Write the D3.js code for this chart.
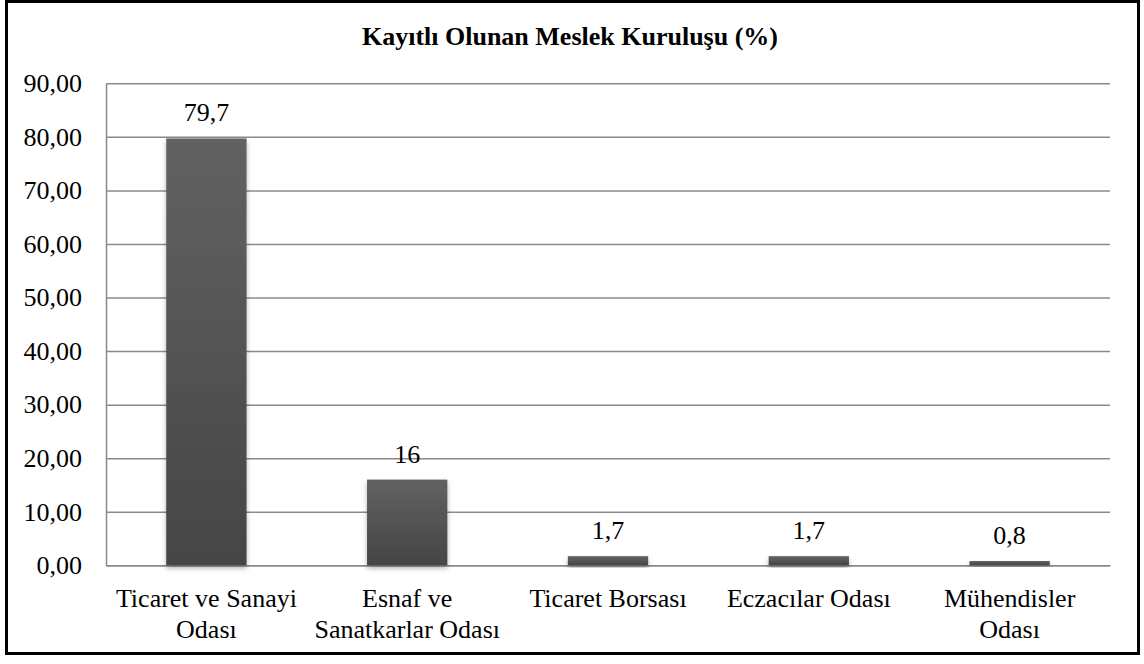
<!DOCTYPE html>
<html>
<head>
<meta charset="utf-8">
<script src="https://cdn.jsdelivr.net/npm/d3@7"></script>
<style>
  html, body { margin: 0; padding: 0; background: #fff; }
  svg { display: block; font-family: "Liberation Serif", "Times New Roman", serif; }
</style>
</head>
<body>
<div id="chart"></div>
<script>
// Chart data
const title = 'Kayıtlı Olunan Meslek Kuruluşu (%)';
const categories = [
    'Ticaret ve Sanayi\nOdası',
    'Esnaf ve\nSanatkarlar Odası',
    'Ticaret Borsası',
    'Eczacılar Odası',
    'Mühendisler\nOdası'
];
const values = [79.7, 16, 1.7, 1.7, 0.8];
const yTicks = [0, 10, 20, 30, 40, 50, 60, 70, 80, 90];

const width = 1144, height = 664;
const margin = {top: 83.3, right: 34, bottom: 98.7, left: 106};
const innerW = width - margin.left - margin.right;
const innerH = height - margin.top - margin.bottom;

const locale = d3.formatLocale({decimal: ',', thousands: '.', grouping: [3], currency: ['', '']});
const tickFormat = locale.format('.2f');
const valueFormat = v => String(v).replace('.', ',');

const svg = d3.select('#chart').append('svg')
    .attr('width', width)
    .attr('height', height);

// Gradient + soft shadow for the bars
const defs = svg.append('defs');
const grad = defs.append('linearGradient')
    .attr('id', 'barGrad')
    .attr('x1', 0).attr('y1', 0).attr('x2', 0).attr('y2', 1);
grad.append('stop').attr('offset', '0%').attr('stop-color', '#626262');
grad.append('stop').attr('offset', '100%').attr('stop-color', '#454545');

const shadow = defs.append('filter')
    .attr('id', 'barShadow')
    .attr('x', '-20%').attr('y', '-20%').attr('width', '140%').attr('height', '140%');
shadow.append('feDropShadow')
    .attr('dx', 0).attr('dy', 3)
    .attr('stdDeviation', 2.5)
    .attr('flood-color', '#000')
    .attr('flood-opacity', 0.3);

// Outer frame
svg.append('rect')
    .attr('x', 6.5).attr('y', 1.5)
    .attr('width', 1132).attr('height', 652)
    .attr('fill', '#fff')
    .attr('stroke', '#000')
    .attr('stroke-width', 3);

// Title
svg.append('text')
    .attr('x', 570)
    .attr('y', 45)
    .attr('text-anchor', 'middle')
    .attr('font-weight', 'bold')
    .attr('font-size', 26)
    .attr('fill', '#000')
    .text(title);

const g = svg.append('g')
    .attr('transform', `translate(${margin.left},${margin.top})`);

// Scales
const x = d3.scaleBand()
    .domain(categories)
    .range([0, innerW])
    .paddingInner(0.6)
    .paddingOuter(0.3);

const y = d3.scaleLinear()
    .domain([0, 90])
    .range([innerH, 0]);

// Horizontal grid
const yGrid = g.append('g')
    .attr('class', 'grid')
    .call(d3.axisLeft(y).tickValues(yTicks).tickSize(-innerW).tickFormat(''));
yGrid.select('.domain').remove();
yGrid.selectAll('.tick line')
    .attr('stroke', '#8a8a8a')
    .attr('stroke-width', 1.5);

// Vertical axis
const yAxis = g.append('g')
    .call(d3.axisLeft(y).tickValues(yTicks).tickSize(0).tickPadding(24).tickFormat(tickFormat));
yAxis.select('.domain')
    .attr('stroke', '#8a8a8a')
    .attr('stroke-width', 1.5);
yAxis.selectAll('.tick text')
    .attr('font-family', '"Liberation Serif", "Times New Roman", serif')
    .attr('font-size', 26)
    .attr('fill', '#000');

// Horizontal axis
const xAxis = g.append('g')
    .attr('transform', `translate(0,${innerH})`)
    .call(d3.axisBottom(x).tickSize(0).tickFormat(''));
xAxis.select('.domain')
    .attr('stroke', '#8a8a8a')
    .attr('stroke-width', 1.5);

xAxis.selectAll('.tick').each(function(d) {
    const lines = d.split('\n');
    const t = d3.select(this).append('text')
        .attr('text-anchor', 'middle')
        .attr('font-family', '"Liberation Serif", "Times New Roman", serif')
        .attr('font-size', 26)
        .attr('fill', '#000');
    lines.forEach((line, i) => {
        t.append('tspan')
            .attr('x', 0)
            .attr('y', 42 + i * 31)
            .text(line);
    });
});

// Bars
g.selectAll('.bar')
    .data(values)
    .enter().append('rect')
    .attr('class', 'bar')
    .attr('x', (d, i) => x(categories[i]))
    .attr('y', d => y(d))
    .attr('width', x.bandwidth())
    .attr('height', d => innerH - y(d))
    .attr('fill', 'url(#barGrad)')
    .attr('filter', 'url(#barShadow)');

// Value labels
g.selectAll('.value-label')
    .data(values)
    .enter().append('text')
    .attr('class', 'value-label')
    .attr('x', (d, i) => x(categories[i]) + x.bandwidth() / 2)
    .attr('y', d => y(d) - 17)
    .attr('text-anchor', 'middle')
    .attr('font-size', 26)
    .attr('fill', '#000')
    .text(valueFormat);
</script>
</body>
</html>
